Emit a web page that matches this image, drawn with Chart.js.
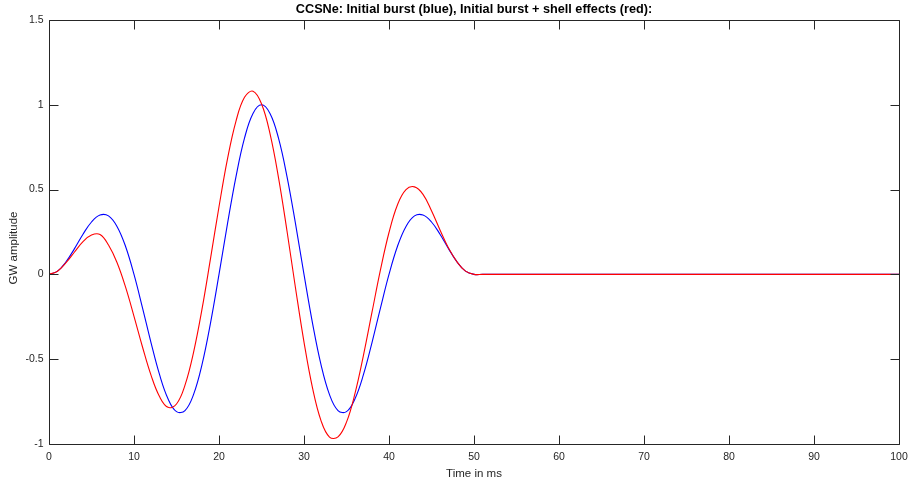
<!DOCTYPE html>
<html>
<head>
<meta charset="utf-8">
<script src="https://cdn.jsdelivr.net/npm/chart.js@4.4.1/dist/chart.umd.min.js"></script>
<style>
  body { margin: 0; background: #ffffff; }
</style>
</head>
<body>
<canvas id="ccsne_chart" width="911" height="483"></canvas>
<script>

// time axis in ms (signal is zero after 50 ms)
var time_ms = [0, 1, 2, 3, 4, 5, 6, 7, 8, 9,
               10, 11, 12, 13, 14, 15, 16, 17, 18, 19,
               20, 21, 22, 23, 24, 25, 26, 27, 28, 29,
               30, 31, 32, 33, 34, 35, 36, 37, 38, 39,
               40, 41, 42, 43, 44, 45, 46, 47, 48, 49,
               50, 51, 100];

// initial burst (blue)
var burst_amp = [0, 0.019, 0.074, 0.152, 0.237, 0.309, 0.350, 0.345, 0.283, 0.166,
                 0, -0.197, -0.402, -0.590, -0.733, -0.809, -0.803, -0.709, -0.532, -0.287,
                 0, 0.299, 0.577, 0.803, 0.949, 1.000, 0.949, 0.803, 0.577, 0.299,
                 0, -0.287, -0.532, -0.709, -0.803, -0.809, -0.733, -0.590, -0.402, -0.197,
                 0, 0.166, 0.283, 0.345, 0.350, 0.309, 0.237, 0.152, 0.074, 0.019,
                 0, 0, 0];

// initial burst + shell effects (red)
var shell_amp = [0, 0.019, 0.069, 0.132, 0.193, 0.232, 0.235, 0.173, 0.070, -0.074,
                 -0.247, -0.428, -0.594, -0.720, -0.784, -0.764, -0.653, -0.461, -0.205, 0.093,
                 0.399, 0.681, 0.904, 1.044, 1.080, 1.006, 0.830, 0.571, 0.256, -0.080,
                 -0.399, -0.669, -0.862, -0.959, -0.958, -0.871, -0.702, -0.476, -0.223, 0.028,
                 0.247, 0.411, 0.500, 0.516, 0.472, 0.375, 0.262, 0.155, 0.074, 0.019,
                 0, 0, 0];

var x_ticks = [0, 10, 20, 30, 40, 50, 60, 70, 80, 90, 100];
var y_ticks = [-1, -0.5, 0, 0.5, 1, 1.5];

var axis_color = '#262626';
var font_family = '"Liberation Sans", Arial, Helvetica, sans-serif';

function toPoints(xs, ys) {
    return xs.map(function (x, i) { return {x: x, y: ys[i]}; });
}

// matlab style box with inward ticks on all four sides, plus the y label
var axes_box = {
    id: 'axes_box',
    afterDatasetsDraw: function (chart) {
        var ctx = chart.ctx;
        var a = chart.chartArea;
        var xs = chart.scales.x, ys = chart.scales.y;
        var L = Math.round(a.left) + 0.5, R = Math.round(a.right) + 0.5;
        var T = Math.round(a.top) + 0.5, B = Math.round(a.bottom) + 0.5;
        var len = 9;
        ctx.save();
        ctx.strokeStyle = axis_color;
        ctx.lineWidth = 1;
        ctx.beginPath();
        ctx.moveTo(L, T); ctx.lineTo(R, T); ctx.lineTo(R, B); ctx.lineTo(L, B); ctx.closePath();
        x_ticks.forEach(function (v) {
            var px = Math.round(xs.getPixelForValue(v)) + 0.5;
            ctx.moveTo(px, B); ctx.lineTo(px, B - len);
            ctx.moveTo(px, T); ctx.lineTo(px, T + len);
        });
        y_ticks.forEach(function (v) {
            var py = Math.round(ys.getPixelForValue(v)) + 0.5;
            ctx.moveTo(L, py); ctx.lineTo(L + len, py);
            ctx.moveTo(R, py); ctx.lineTo(R - len, py);
        });
        ctx.stroke();

        // y label sits a bit below the axes middle in the original
        ctx.translate(14, (a.top + a.bottom) / 2 + 16);
        ctx.rotate(-Math.PI / 2);
        ctx.fillStyle = axis_color;
        ctx.font = '11.5px ' + font_family;
        ctx.textAlign = 'center';
        ctx.textBaseline = 'middle';
        ctx.fillText('GW amplitude', 0, 0);
        ctx.restore();
    }
};

const data = {
    datasets: [{
        label: 'Initial burst + shell effects',
        data: toPoints(time_ms, shell_amp),
        borderColor: '#ff0000',
        borderWidth: 1.1,
        pointRadius: 0,
        tension: 0.4,
        order: 0,
    },
    {
        label: 'Initial burst',
        data: toPoints(time_ms, burst_amp),
        borderColor: '#0000ff',
        borderWidth: 1.1,
        pointRadius: 0,
        tension: 0.4,
        order: 1,
    }]
};

const config = {
    type: 'line',
    data: data,
    plugins: [axes_box],
    options: {
        responsive: false,
        devicePixelRatio: 1,
        animation: false,
        layout: {padding: {left: 0, right: 12, top: 0, bottom: 0}},
        scales: {
            x: {
                type: 'linear',
                min: 0,
                max: 100,
                afterBuildTicks: function (scale) {
                    scale.ticks = x_ticks.map(function (v) { return {value: v}; });
                },
                afterFit: function (scale) {
                    scale.height = 39;
                    scale.paddingLeft = 0;
                    scale.paddingRight = 0;
                },
                grid: {display: false, drawTicks: false},
                border: {display: false},
                ticks: {
                    color: axis_color,
                    padding: 6.5,
                    maxRotation: 0,
                    font: {family: font_family, size: 10.5},
                    callback: function (v) { return String(v); },
                },
                title: {
                    display: true,
                    text: 'Time in ms',
                    color: axis_color,
                    padding: {top: 0, bottom: 2},
                    font: {family: font_family, size: 11.5},
                }
            },
            y: {
                type: 'linear',
                min: -1,
                max: 1.5,
                afterBuildTicks: function (scale) {
                    scale.ticks = y_ticks.map(function (v) { return {value: v}; });
                },
                afterFit: function (scale) {
                    scale.width = 49;
                    scale.paddingTop = 0;
                    scale.paddingBottom = 0;
                },
                grid: {display: false, drawTicks: false},
                border: {display: false},
                ticks: {
                    color: axis_color,
                    padding: 5.5,
                    font: {family: font_family, size: 10.5},
                    callback: function (v) { return String(v); },
                }
            }
        },
        plugins: {
            legend: {display: false},
            tooltip: {enabled: false},
            title: {
                display: true,
                fullSize: false,
                text: 'CCSNe: Initial burst (blue), Initial burst + shell effects (red):',
                color: '#000000',
                padding: {top: 2, bottom: 2.76},
                font: {family: font_family, size: 12.7, weight: 'bold', lineHeight: 1.2},
            }
        }
    }
};

const myChart = new Chart(document.getElementById('ccsne_chart'), config);
</script>
</body>
</html>
